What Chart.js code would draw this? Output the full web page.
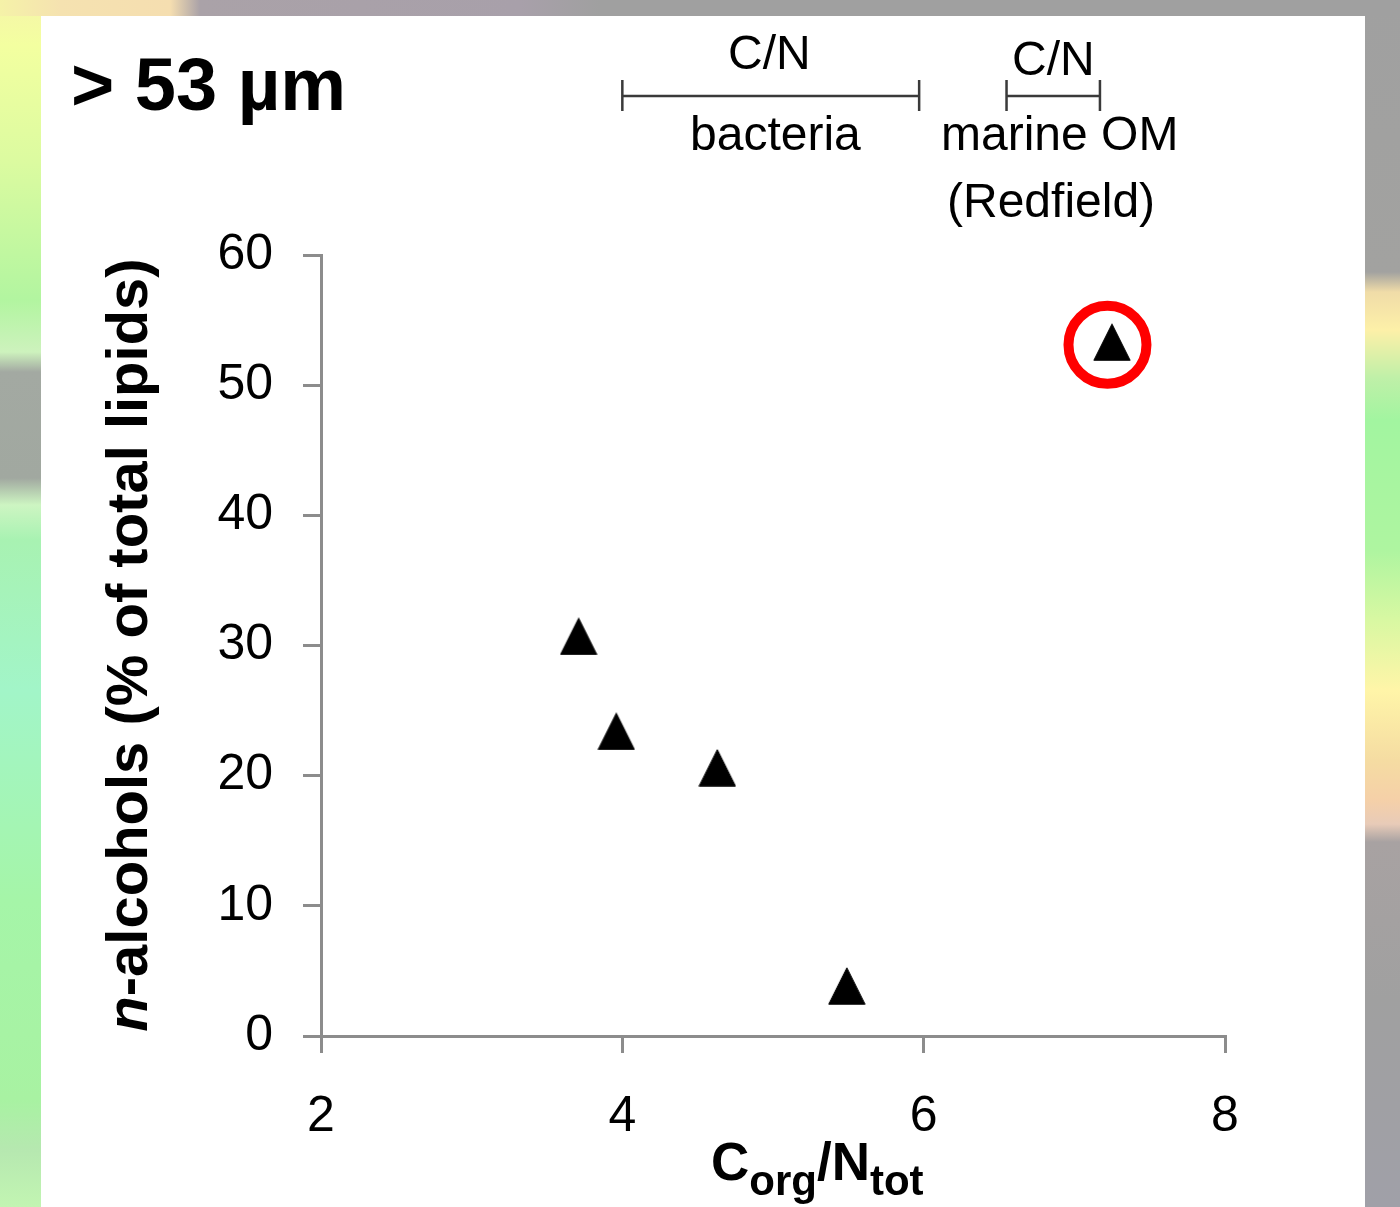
<!DOCTYPE html>
<html>
<head>
<meta charset="utf-8">
<title>n-alcohols vs C/N</title>
<script src="https://cdn.jsdelivr.net/npm/chart.js@4.4.1/dist/chart.umd.min.js"></script>
<style>
    html, body { margin: 0; padding: 0; }
    body { width: 1400px; height: 1207px; position: relative; overflow: hidden; background: #a0a0a0; }
    .strip { position: absolute; }
    #leftStrip {
        left: 0; top: 0; width: 41px; height: 1207px;
        background: linear-gradient(to bottom, #f5e3b0 0px, #f5f8a6 14px, #f3ffa0 45px, #dcfba0 160px,
            #b2f5a0 300px, #cdf2bd 352px, #a3a9a2 372px, #a1a8a0 478px, #cdf5c2 505px, #a8f2b2 540px,
            #a2f5c8 690px, #a5f5a8 900px, #a8f2a2 1100px, #b6e8b0 1150px, #c2f5b2 1207px);
    }
    #rightStrip {
        left: 1365px; top: 0; width: 35px; height: 1207px;
        background: linear-gradient(to bottom, #a0a0a0 0px, #a2a2a0 272px, #f0dca8 292px, #fdf0a8 330px,
            #bff0a8 378px, #a2f5a0 420px, #aef5a0 550px, #d8f8a2 620px, #fff5a8 690px, #f5dca2 760px,
            #f5d0a8 800px, #e8cbb8 824px, #a8a2a2 842px, #a0a0a0 1000px, #a0a0a8 1207px);
    }
    #topStrip {
        left: 0; top: 0; width: 1400px; height: 16px;
        background: linear-gradient(to right, #f5f2a8 0px, #f5e2b0 60px, #f5deb0 170px, #aaa2a8 200px,
            #a8a0aa 520px, #a0a0a0 600px, #a0a0a0 1400px);
    }
    #panel { position: absolute; left: 41px; top: 16px; width: 1324px; height: 1191px; background: #ffffff; }
    #chartCanvas { position: absolute; left: 0; top: 0; }
</style>
</head>
<body>
<div class="strip" id="leftStrip"></div>
<div class="strip" id="rightStrip"></div>
<div class="strip" id="topStrip"></div>
<div id="panel"></div>
<canvas id="chartCanvas" width="1400" height="1207"></canvas>

<script>
// Values
const cnRatio = [3.71, 3.96, 4.63, 5.49, 7.25];
const alcoholShare = [30.7, 23.4, 20.6, 3.84, 53.3];

// The sample ringed in red
const highlightX = [7.22];
const highlightY = [53.1];

const xTicks = [2, 4, 6, 8];
const yTicks = [0, 10, 20, 30, 40, 50, 60];

// C/N reference ranges shown above the plot
const rangeNames = ['bacteria', 'marine OM'];
const rangeStart = [4.0, 6.55];
const rangeEnd = [5.97, 7.17];

const FONT = "'Liberation Sans', Arial, sans-serif";
const AXIS_GREY = '#8c8c8c';

Chart.defaults.font.family = FONT;

// Filled triangle marker, a bit taller than equilateral like the original
function triangleMarker() {
    const c = document.createElement('canvas');
    c.width = 38;
    c.height = 38;
    const g = c.getContext('2d');
    g.fillStyle = '#000000';
    g.strokeStyle = '#000000';
    g.lineWidth = 1;
    g.lineJoin = 'round';
    g.beginPath();
    g.moveTo(19, 0.8);
    g.lineTo(37.2, 37.2);
    g.lineTo(0.8, 37.2);
    g.closePath();
    g.fill();
    g.stroke();
    return c;
}

// Draws pieces of text one after the other on a common baseline
function drawRuns(ctx, runs, x, y) {
    runs.forEach(run => {
        ctx.font = run.font;
        ctx.fillText(run.text, x, y + (run.dy || 0));
        x += ctx.measureText(run.text).width;
    });
}

function runsWidth(ctx, runs) {
    return runs.reduce((w, run) => {
        ctx.font = run.font;
        return w + ctx.measureText(run.text).width;
    }, 0);
}

const labelsPlugin = {
    id: 'figureLabels',
    afterDraw(chart) {
        const ctx = chart.ctx;
        const xScale = chart.scales.x;
        ctx.save();
        ctx.fillStyle = '#000000';
        ctx.textAlign = 'left';
        ctx.textBaseline = 'alphabetic';

        // panel title
        ctx.font = 'bold 74px ' + FONT;
        ctx.fillText('> 53 \u00b5m', 71, 110);

        // reference ranges
        ctx.strokeStyle = '#3a3a3a';
        ctx.lineWidth = 2.5;
        const barY = 96;
        rangeStart.forEach((start, i) => {
            const x0 = xScale.getPixelForValue(start);
            const x1 = xScale.getPixelForValue(rangeEnd[i]);
            ctx.beginPath();
            ctx.moveTo(x0, barY);
            ctx.lineTo(x1, barY);
            ctx.moveTo(x0, barY - 16);
            ctx.lineTo(x0, barY + 15);
            ctx.moveTo(x1, barY - 16);
            ctx.lineTo(x1, barY + 15);
            ctx.stroke();
        });

        ctx.font = '48px ' + FONT;
        ctx.fillText('C/N', 728, 69);
        ctx.fillText(rangeNames[0], 690, 150);
        ctx.fillText('C/N', 1012, 75);
        ctx.fillText(rangeNames[1], 941, 150);
        ctx.fillText('(Redfield)', 947, 217);

        // x axis title with subscripts
        const main = 'bold 53px ' + FONT;
        const sub = 'bold 42px ' + FONT;
        drawRuns(ctx, [
            { text: 'C', font: main },
            { text: 'org', font: sub, dy: 15 },
            { text: '/N', font: main },
            { text: 'tot', font: sub, dy: 15 }
        ], 711, 1180);

        // y axis title, rotated
        const yRuns = [
            { text: 'n', font: 'italic bold 58px ' + FONT },
            { text: '-alcohols (% of total lipids)', font: 'bold 58px ' + FONT }
        ];
        const w = runsWidth(ctx, yRuns);
        ctx.translate(147, 645);
        ctx.rotate(-Math.PI / 2);
        drawRuns(ctx, yRuns, -w / 2, 0);

        ctx.restore();
    }
};

const axisGrid = {
    drawOnChartArea: false,
    drawTicks: true,
    tickLength: 18,
    color: AXIS_GREY,
    tickColor: AXIS_GREY,
    lineWidth: 3,
    tickWidth: 3
};

const axisBorder = { display: true, color: AXIS_GREY, width: 3 };

const ctx = document.getElementById('chartCanvas');

const chart = new Chart(ctx, {
    type: 'scatter',
    data: {
        datasets: [
            {
                label: 'n-alcohols',
                data: cnRatio.map((x, i) => ({ x: x, y: alcoholShare[i] })),
                pointStyle: triangleMarker(),
                pointRadius: 19,
                backgroundColor: '#000000',
                borderColor: '#000000'
            },
            {
                label: 'highlight',
                data: highlightX.map((x, i) => ({ x: x, y: highlightY[i] })),
                pointStyle: 'circle',
                pointRadius: 39,
                borderWidth: 10,
                borderColor: '#ff0000',
                backgroundColor: 'rgba(0, 0, 0, 0)'
            }
        ]
    },
    options: {
        responsive: false,
        animation: false,
        events: [],
        layout: {
            padding: { left: 0, top: 255, right: 175, bottom: 71 }
        },
        plugins: {
            legend: { display: false },
            tooltip: { enabled: false }
        },
        scales: {
            x: {
                type: 'linear',
                min: 2,
                max: 8,
                afterBuildTicks: scale => { scale.ticks = xTicks.map(v => ({ value: v })); },
                afterFit: scale => { scale.height = 100; },
                grid: { ...axisGrid, tickLength: 17 },
                border: axisBorder,
                ticks: {
                    color: '#000000',
                    padding: 34,
                    maxRotation: 0,
                    font: { size: 50, family: FONT }
                }
            },
            y: {
                type: 'linear',
                min: 0,
                max: 60,
                afterBuildTicks: scale => { scale.ticks = yTicks.map(v => ({ value: v })); },
                afterFit: scale => { scale.width = 321; },
                grid: axisGrid,
                border: axisBorder,
                ticks: {
                    color: '#000000',
                    padding: 30,
                    font: { size: 50, family: FONT }
                }
            }
        }
    },
    plugins: [labelsPlugin]
});
</script>
</body>
</html>
